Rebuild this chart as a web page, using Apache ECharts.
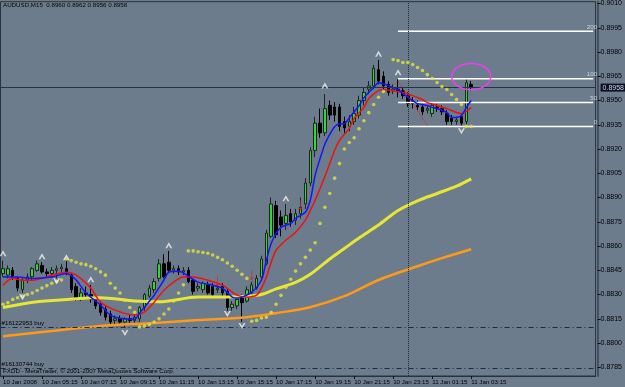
<!DOCTYPE html>
<html><head><meta charset="utf-8">
<script src="https://cdn.jsdelivr.net/npm/echarts@6/dist/echarts.min.js"></script>
<style>html,body{margin:0;padding:0;background:#6c7c8c;}#c{width:625px;height:387px;}</style>
</head><body><div id="c"></div>
<script>
// ---------- DATA ----------
const symbolTitle = 'AUDUSD,M15  0.8960 0.8962 0.8956 0.8958';
const footerText = 'FXDD - MetaTrader, \u00A9 2001-2007 MetaQuotes Software Corp.';
const slotCount = 122;
const tickIdx = [0,8,16,24,32,40,48,56,64,72,80,88,96];
const tickLabels = ["10 Jan 2008","10 Jan 05:15","10 Jan 07:15","10 Jan 09:15","10 Jan 11:15","10 Jan 13:15","10 Jan 15:15","10 Jan 17:15","10 Jan 19:15","10 Jan 21:15","10 Jan 23:15","11 Jan 01:15","11 Jan 03:15"];
const yTicks = [0.8785,0.8800,0.8815,0.8830,0.8845,0.8860,0.8875,0.8890,0.8905,0.8920,0.8935,0.8950,0.8965,0.8980,0.8995,0.9010];

const opens = [0.8843,0.8842,0.8845,0.8840,0.8833,0.8839,0.8841,0.8845,0.8848,0.8844,
0.8843,0.8845,0.8846,0.8846,0.8842,0.8835,0.8828,0.8831,0.8830,0.8827,
0.8824,0.8821,0.8818,0.8814,0.8815,0.8813,0.8815,0.8814,0.8815,0.8822,
0.8829,0.8833,0.8840,0.8849,0.8850,0.8845,0.8846,0.8844,0.8845,0.8839,
0.8834,0.8833,0.8836,0.8835,0.8833,0.8835,0.8832,0.8822,0.8823,0.8829,
0.8826,0.8831,0.8834,0.8841,0.8849,0.8866,0.8885,0.8878,0.8874,0.8880,
0.8876,0.8880,0.8886,0.8899,0.8919,0.8936,0.8930,0.8947,0.8946,0.8946,
0.8937,0.8934,0.8937,0.8941,0.8950,0.8957,0.8959,0.8969,0.8965,0.8960,
0.8956,0.8957,0.8956,0.8953,0.8950,0.8947,0.8946,0.8944,0.8942,0.8946,
0.8945,0.8942,0.8939,0.8937,0.8940,0.8937,0.8960];
const highs = [0.8851,0.8848,0.8847,0.8841,0.8840,0.8843,0.8847,0.8851,0.8850,0.8846,
0.8847,0.8848,0.8849,0.8851,0.8843,0.8837,0.8834,0.8835,0.8836,0.8829,
0.8826,0.8823,0.8820,0.8817,0.8817,0.8816,0.8818,0.8818,0.8823,0.8831,
0.8836,0.8840,0.8852,0.8855,0.8857,0.8848,0.8848,0.8847,0.8847,0.8840,
0.8837,0.8838,0.8838,0.8837,0.8836,0.8837,0.8834,0.8826,0.8829,0.8830,
0.8835,0.8838,0.8842,0.8854,0.8870,0.8890,0.8888,0.8882,0.8886,0.8883,
0.8883,0.8890,0.8902,0.8921,0.8940,0.8945,0.8954,0.8950,0.8949,0.8948,
0.8940,0.8941,0.8946,0.8953,0.8958,0.8962,0.8972,0.8975,0.8968,0.8962,
0.8960,0.8963,0.8958,0.8955,0.8952,0.8950,0.8948,0.8947,0.8949,0.8948,
0.8947,0.8944,0.8941,0.8940,0.8942,0.8964,0.8962];
const lows = [0.8841,0.8840,0.8839,0.8832,0.8831,0.8837,0.8839,0.8844,0.8843,0.8841,
0.8841,0.8840,0.8844,0.8842,0.8831,0.8826,0.8826,0.8827,0.8825,0.8821,
0.8817,0.8814,0.8811,0.8811,0.8811,0.8810,0.8812,0.8812,0.8813,0.8820,
0.8828,0.8831,0.8838,0.8840,0.8844,0.8843,0.8842,0.8842,0.8837,0.8830,
0.8832,0.8831,0.8830,0.8828,0.8831,0.8829,0.8820,0.8820,0.8821,0.8813,
0.8825,0.8830,0.8833,0.8840,0.8848,0.8865,0.8865,0.8866,0.8870,0.8872,
0.8873,0.8877,0.8883,0.8897,0.8915,0.8927,0.8928,0.8938,0.8937,0.8931,
0.8930,0.8931,0.8935,0.8939,0.8947,0.8954,0.8957,0.8960,0.8956,0.8953,
0.8954,0.8952,0.8951,0.8946,0.8945,0.8944,0.8941,0.8942,0.8940,0.8943,
0.8941,0.8935,0.8935,0.8935,0.89345,0.8935,0.8956];
const closes = [0.8846,0.8846,0.8841,0.8834,0.8839,0.8841,0.8846,0.8849,0.8844,0.8843,
0.8845,0.8846,0.8847,0.8843,0.8833,0.8828,0.8831,0.8830,0.8827,0.8823,
0.8819,0.8816,0.8813,0.8815,0.8813,0.8815,0.8814,0.8816,0.8822,0.8830,
0.8834,0.8838,0.8849,0.8841,0.8845,0.8846,0.8844,0.8845,0.8838,0.8832,
0.8835,0.8837,0.8831,0.8830,0.8834,0.8831,0.8822,0.8824,0.8827,0.8825,
0.8833,0.8836,0.8840,0.8852,0.8868,0.8886,0.8867,0.8873,0.8879,0.8875,
0.8880,0.8884,0.8899,0.8919,0.8936,0.8930,0.8945,0.8941,0.8941,0.8934,
0.8933,0.8937,0.8942,0.8950,0.8955,0.8959,0.8970,0.8962,0.8959,0.8955,
0.8957,0.8956,0.8953,0.8948,0.8948,0.8946,0.8943,0.8945,0.8947,0.8945,
0.8943,0.8937,0.8937,0.8938,0.8936,0.8961,0.8958];

const sarDots = [[0,0.8824],[1,0.8825],[2,0.8827],[3,0.8828],[4,0.8829],[5,0.8830],[6,0.8831],[7,0.88325],[8,0.8834],[9,0.88355],[10,0.8837],[11,0.8838],[12,0.8839],
[13,0.8852],[14,0.8851],[15,0.8850],[16,0.8849],[17,0.88485],[18,0.88475],[19,0.8846],[20,0.8844],[21,0.8842],[22,0.8837],[23,0.8834],[24,0.8831],[25,0.88265],[26,0.8822],[27,0.8819],
[28,0.8810],[29,0.88105],[30,0.88115],[31,0.8813],[32,0.8815],[33,0.8818],[34,0.8821],[35,0.8826],[36,0.8831],[37,0.8836],
[38,0.8857],[39,0.8857],[40,0.88565],[41,0.8856],[42,0.88555],[43,0.88545],[44,0.8853],[45,0.88515],[46,0.88495],[47,0.88475],[48,0.8845],[49,0.88425],[50,0.8840],
[51,0.88135],[52,0.8814],[53,0.88155],[54,0.8816],[55,0.8819],[56,0.8824],[57,0.88295],[58,0.88345],[59,0.88395],[60,0.88445],[61,0.8849],[62,0.8853],[63,0.88575],[64,0.8862],[65,0.8874],[66,0.8884],[67,0.88925],[68,0.8902],[69,0.8911],[70,0.8920],[71,0.8924],[72,0.8927],[73,0.89325],[74,0.89375],[75,0.89425],[76,0.89475],[77,0.8952],[78,0.89555],
[80,0.89753],[81,0.89747],[82,0.89735],[83,0.89735],[84,0.89722],[85,0.89704],[86,0.89686],[87,0.8966],[88,0.89636],[89,0.89611],[90,0.89586],[91,0.89568],[92,0.89537],[93,0.89506],[94,0.89475],
[95,0.8934],[96,0.8934]];

const slowYellow = [[0,0.8822],[7,0.88255],[13,0.8827],[20,0.8828],[27,0.8826],[32,0.88255],[40,0.88285],[46,0.88285],[50,0.8829],[53,0.8830],[56,0.88335],[60,0.88375],[63,0.88425],[67,0.8852],[70,0.88585],[73,0.8865],[77,0.8873],[81,0.8882],[85,0.8888],[89,0.88925],[93,0.8897],[96,0.89015]];
const slowOrange = [[0,0.88042],[10,0.88074],[20,0.88105],[30,0.88123],[40,0.88142],[50,0.8816],[56,0.88185],[63,0.88222],[70,0.8829],[77,0.8839],[85,0.88475],[90,0.88525],[96,0.8858]];
const fastBlue = [[0,0.88408],[3,0.88408],[6,0.8840],[10,0.88408],[13,0.8843],[15,0.8839],[17,0.8831],[20,0.88235],[22,0.88173],[24,0.88154],[27,0.88148],[28,0.88185],[29,0.88222],[31,0.88296],[33,0.8839],[34,0.88438],[36,0.88444],[38,0.88414],[40,0.88377],[43,0.88358],[45,0.8834],[47,0.88284],[48,0.88278],[49,0.88284],[51,0.88315],[53,0.8839],[54,0.88512],[55,0.88617],[56,0.88679],[57,0.88716],[59,0.8874],[60,0.88772],[62,0.88809],[63,0.88883],[64,0.89037],[65,0.8914],[66,0.8923],[67,0.8929],[68,0.89338],[69,0.89357],[70,0.89357],[71,0.89394],[73,0.89468],[74,0.89517],[76,0.8958],[77,0.8961],[78,0.89604],[80,0.8958],[81,0.89567],[82,0.89543],[84,0.8950],[85,0.89481],[87,0.89469],[88,0.89457],[89,0.8945],[91,0.89426],[92,0.89395],[93,0.89395],[94,0.89407],[95,0.89457],[96,0.8950]];
const midRed = [[0,0.88358],[2,0.88401],[4,0.88389],[6,0.88389],[10,0.8842],[13,0.88438],[15,0.8842],[18,0.8834],[20,0.88253],[23,0.88204],[27,0.88173],[29,0.88191],[31,0.88253],[33,0.88327],[35,0.88377],[37,0.88408],[39,0.88408],[42,0.88389],[45,0.88358],[48,0.88296],[50,0.88284],[52,0.88296],[53,0.8834],[54,0.88408],[55,0.8850],[56,0.88574],[58,0.88636],[60,0.88685],[62,0.8876],[63,0.88821],[64,0.88883],[66,0.8903],[68,0.89192],[69,0.89254],[71,0.89328],[72,0.89389],[74,0.89457],[75,0.89512],[77,0.89561],[78,0.89567],[80,0.89561],[82,0.89549],[84,0.8953],[86,0.89506],[87,0.89487],[89,0.89469],[91,0.8945],[93,0.89426],[94,0.89419],[96,0.89457]];

const fractalUp = [[0,0.88555],[8,0.88537],[13,0.8853],[18,0.88395],[34,0.88605],[58,0.88895],[66,0.89593],[77,0.8979],[81,0.89675]];
const fractalDown = [[4,0.88284],[11,0.88383],[25,0.88062],[46,0.88179],[49,0.88105],[94,0.8931]];
const redArrows = [[44,0.8838],[51,0.8842],[61,0.8885]];
const redTrend = [[81,0.8962],[87,0.89345]];

const fibLevels = [0.89340,0.89487,0.89634,0.89928];
const fibNames = ['0','50','100','200'];
const fibStart = 81, fibEnd = 121;

const currentPrice = 0.8958;
const orderLevels = [0.88097, 0.87844];
const orderNames = ['#16122953 buy', '#16130744 buy'];
const daySeparator = 83;
const ellipseCenter = [96, 0.89648];
const ellipseRadius = [4, 0.00081];

// ---------- CHART ----------
const FONT = "'Liberation Sans',Arial,sans-serif";
const FS = 6.2;
const cats = Array.from({length: slotCount}, (_, i) => String(i));
const labelMap = {};
tickIdx.forEach((k, j) => { labelMap[k] = tickLabels[j]; });
const candleData = opens.map((o, i) => [o, closes[i], lows[i], highs[i]]);
const dashDot = [5, 3, 1, 3];

const series = [
  {
    type: 'candlestick', data: candleData, barWidth: 3, z: 2,
    itemStyle: { color: '#33d633', color0: '#000000', borderColor: '#1c261c', borderColor0: '#000000', borderWidth: 1 },
    markLine: {
      silent: true, symbol: 'none', animation: false, precision: 5,
      data: [
        { yAxis: currentPrice, lineStyle: { color: '#25334a', width: 1, type: 'solid' },
          label: { show: true, position: 'end', formatter: currentPrice.toFixed(4), backgroundColor: '#0b1026', color: '#d0d6e0', fontSize: 7, fontFamily: FONT, padding: [1, 2, 0, 2], distance: 5 } },
        { yAxis: orderLevels[0], lineStyle: { color: '#1d2b45', width: 1, type: dashDot },
          label: { show: true, position: 'insideStartTop', formatter: orderNames[0], color: '#000', fontSize: FS, fontFamily: FONT, distance: 1 } },
        { yAxis: orderLevels[1], lineStyle: { color: '#1d2b45', width: 1, type: dashDot },
          label: { show: true, position: 'insideStartTop', formatter: orderNames[1], color: '#000', fontSize: FS, fontFamily: FONT, distance: 1 } },
        { xAxis: daySeparator, lineStyle: { color: '#1e2a38', width: 1, type: 'dotted' }, label: { show: false } }
      ]
    }
  },
  { type: 'line', data: slowOrange, showSymbol: false, smooth: 0.3, connectNulls: true, lineStyle: { color: '#ff9a18', width: 2.5 }, z: 3 },
  { type: 'line', data: slowYellow, showSymbol: false, smooth: 0.3, connectNulls: true, lineStyle: { color: '#e6e636', width: 3 }, z: 3 },
  { type: 'line', data: midRed, showSymbol: false, smooth: 0.3, connectNulls: true, lineStyle: { color: '#ee1111', width: 1.5 }, z: 4 },
  { type: 'line', data: fastBlue, showSymbol: false, smooth: 0.3, connectNulls: true, lineStyle: { color: '#1515ff', width: 1.5 }, z: 4 },
  { type: 'line', data: redTrend, showSymbol: false, lineStyle: { color: '#d22', width: 1, type: 'dotted' }, z: 4 },
  { type: 'scatter', data: sarDots, symbol: 'circle', symbolSize: 3.6, itemStyle: { color: '#e4e43a' }, z: 5 },
  { type: 'scatter', data: fractalUp, symbol: 'path://M0,8 L4,0 L8,8 L6,8 L4,4 L2,8 Z', symbolSize: [7, 6], itemStyle: { color: '#f2f2f4' }, z: 6 },
  { type: 'scatter', data: fractalDown, symbol: 'path://M0,0 L4,8 L8,0 L6,0 L4,4 L2,0 Z', symbolSize: [7, 6], itemStyle: { color: '#f2f2f4' }, z: 6 },
  { type: 'scatter', data: redArrows, symbol: 'path://M2,0 L3,0 L3,8 L5,8 L2.5,11 L0,8 L2,8 Z', symbolSize: [4, 10], itemStyle: { color: '#e02020' }, z: 6 },
  {
    type: 'custom', z: 10, data: [[ellipseCenter[0], ellipseCenter[1], ellipseRadius[0], ellipseRadius[1]]],
    renderItem: (params, api) => {
      const c = api.coord([api.value(0), api.value(1)]);
      const ex = api.coord([api.value(0) - api.value(2), api.value(1) + api.value(3)]);
      const rx = Math.abs(c[0] - ex[0]), ry = Math.abs(c[1] - ex[1]);
      const pts = [];
      for (let k = 0; k <= 72; k++) { const a = k / 72 * Math.PI * 2; pts.push([c[0] + rx * Math.cos(a), c[1] + ry * Math.sin(a)]); }
      return { type: 'polyline', shape: { points: pts }, style: { stroke: '#f43cf4', lineWidth: 1.5, fill: null } };
    }
  }
];
fibLevels.forEach((v, j) => {
  series.push({ type: 'line', data: [[fibStart, v], [fibEnd, v]], showSymbol: false, lineStyle: { color: '#ffffff', width: 1.5 }, z: 3 });
});
series.push({
  type: 'scatter', z: 7, symbolSize: 1, itemStyle: { color: 'rgba(0,0,0,0)' },
  data: fibLevels.map((v, j) => ({ value: [fibEnd, v], label: { show: true, formatter: fibNames[j] } })),
  label: { position: 'top', align: 'right', distance: 1, offset: [4, 0], color: '#e4e6ea', fontSize: FS, fontFamily: FONT }
});

const option = {
  animation: false,
  backgroundColor: '#6c7c8c',
  textStyle: { fontFamily: FONT },
  title: { text: symbolTitle, left: 3, top: 2, padding: 0, textStyle: { fontSize: FS, fontWeight: 'normal', color: '#000', fontFamily: FONT } },
  graphic: [{ type: 'text', left: 3, top: 368, style: { text: footerText, fontSize: FS, fill: '#000', fontFamily: FONT } }],
  grid: { left: -1, right: 26, top: 1, bottom: 11, show: true, borderColor: '#28323e', borderWidth: 1 },
  xAxis: {
    type: 'category', data: cats, boundaryGap: true,
    axisLine: { show: true, lineStyle: { color: '#28323e' } },
    axisTick: { show: true, interval: (i) => labelMap[i] !== undefined, length: 3, alignWithLabel: true, lineStyle: { color: '#111' } },
    axisLabel: { interval: (i) => labelMap[i] !== undefined, formatter: (v, i) => labelMap[i] || '', align: 'left', margin: 3, fontSize: FS, color: '#000', fontFamily: FONT },
    splitLine: { show: false }
  },
  yAxis: {
    type: 'value', position: 'right', min: 0.877963, max: 0.901111, offset: 2,
    axisLine: { show: true, lineStyle: { color: '#46505c', width: 2 } },
    axisTick: { show: true, customValues: yTicks, length: 3, lineStyle: { color: '#111' } },
    axisLabel: { customValues: yTicks, formatter: (v) => v.toFixed(4), fontSize: 7, color: '#000', margin: 3, fontFamily: FONT },
    splitLine: { show: false }
  },
  series: series
};
const chart = echarts.init(document.getElementById('c'), null, { renderer: 'canvas' });
chart.setOption(option);
</script>
</body></html>
